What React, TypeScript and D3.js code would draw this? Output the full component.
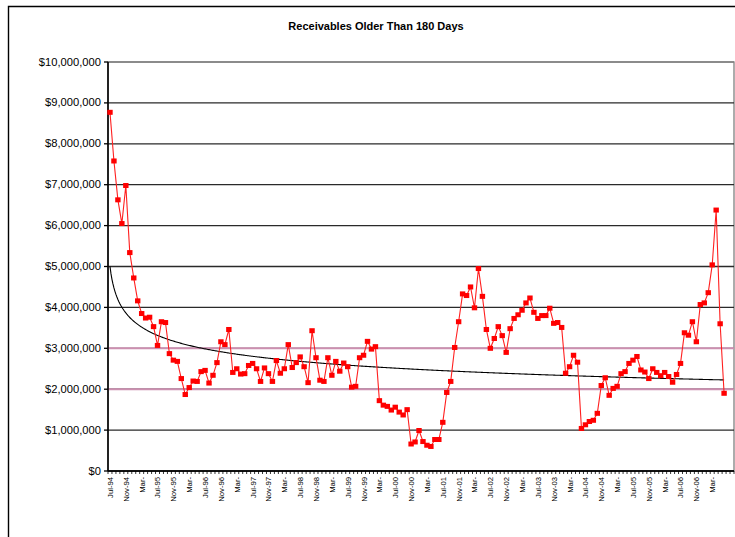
import React from 'react';
import * as d3 from 'd3';

const chartTitle = 'Receivables Older Than 180 Days';

// Monthly balances, Jul-94 .. Jun-07, in millions of dollars
const receivablesM: number[] = [
  8.77, 7.58, 6.63, 6.05, 6.98, 5.34, 4.72, 4.16, 3.85, 3.74, 3.76, 3.53,
  3.07, 3.65, 3.63, 2.87, 2.71, 2.68, 2.26, 1.87, 2.04, 2.20, 2.19, 2.43,
  2.46, 2.15, 2.34, 2.65, 3.16, 3.09, 3.46, 2.41, 2.50, 2.37, 2.38, 2.58,
  2.63, 2.50, 2.19, 2.52, 2.38, 2.19, 2.70, 2.39, 2.50, 3.09, 2.53, 2.65,
  2.79, 2.55, 2.16, 3.43, 2.77, 2.22, 2.19, 2.77, 2.34, 2.68, 2.44, 2.64,
  2.55, 2.05, 2.07, 2.77, 2.83, 3.17, 2.98, 3.04, 1.72, 1.61, 1.58, 1.49,
  1.56, 1.44, 1.37, 1.50, 0.66, 0.71, 0.99, 0.72, 0.63, 0.60, 0.77, 0.77,
  1.19, 1.92, 2.19, 3.02, 3.65, 4.33, 4.29, 4.50, 3.99, 4.95, 4.27, 3.46,
  3.00, 3.24, 3.53, 3.31, 2.90, 3.48, 3.73, 3.82, 3.93, 4.11, 4.23, 3.88,
  3.73, 3.80, 3.80, 3.98, 3.61, 3.63, 3.51, 2.39, 2.55, 2.83, 2.66, 1.04,
  1.13, 1.21, 1.24, 1.41, 2.09, 2.28, 1.85, 2.02, 2.07, 2.38, 2.43, 2.63,
  2.71, 2.80, 2.47, 2.42, 2.26, 2.50, 2.41, 2.33, 2.41, 2.31, 2.17, 2.36,
  2.63, 3.38, 3.32, 3.65, 3.16, 4.07, 4.11, 4.36, 5.04, 6.38, 3.60, 1.90,
];

// Category slots on the axis (Jul-94 .. Aug-07)
const categoryCount = 158;

// Tick labels every fourth month, starting at Jul-94
const tickLabels: string[] = [
  'Jul-94', 'Nov-94', 'Mar-', 'Jul-95', 'Nov-95', 'Mar-', 'Jul-96', 'Nov-96', 'Mar-',
  'Jul-97', 'Nov-97', 'Mar-', 'Jul-98', 'Nov-98', 'Mar-', 'Jul-99', 'Nov-99', 'Mar-',
  'Jul-00', 'Nov-00', 'Mar-', 'Jul-01', 'Nov-01', 'Mar-', 'Jul-02', 'Nov-02', 'Mar-',
  'Jul-03', 'Nov-03', 'Mar-', 'Jul-04', 'Nov-04', 'Mar-', 'Jul-05', 'Nov-05', 'Mar-',
  'Jul-06', 'Nov-06', 'Mar-',
];
const labelStep = 4;

const yTicksM: number[] = [0, 1, 2, 3, 4, 5, 6, 7, 8, 9, 10];
const referenceLinesM: number[] = [2, 3];
const MILLION = 1_000_000;

const W = 735;
const H = 537;
const plot = { left: 108, right: 734, top: 62, bottom: 471 };
const FONT = '"Liberation Sans", Arial, Helvetica, sans-serif';

export default function App() {
  const data = receivablesM.map((v, i) => ({ i, value: v * MILLION }));

  const x = d3
    .scaleBand<number>()
    .domain(d3.range(categoryCount))
    .range([plot.left, plot.right])
    .paddingInner(0)
    .paddingOuter(0);
  const cx = (i: number) => (x(i) as number) + x.bandwidth() / 2;

  const y = d3
    .scaleLinear()
    .domain([0, 10 * MILLION])
    .range([plot.bottom, plot.top]);

  const fmt = d3.format('$,.0f');

  const line = d3
    .line<{ i: number; value: number }>()
    .x((d) => cx(d.i))
    .y((d) => y(d.value));

  // Power trendline (least squares on ln x, ln y), x = 1..n
  const n = data.length;
  const lx = data.map((d) => Math.log(d.i + 1));
  const ly = data.map((d) => Math.log(d.value));
  const mx = d3.mean(lx) as number;
  const my = d3.mean(ly) as number;
  let sxy = 0;
  let sxx = 0;
  for (let k = 0; k < n; k++) {
    sxy += (lx[k] - mx) * (ly[k] - my);
    sxx += (lx[k] - mx) * (lx[k] - mx);
  }
  const p = sxy / sxx;
  const c = Math.exp(my - p * mx);
  const trendPts: [number, number][] = [];
  for (let t = 0; t <= (n - 1) * 4; t++) {
    const xi = t / 4;
    trendPts.push([cx(0) + (cx(1) - cx(0)) * xi, y(c * Math.pow(xi + 1, p))]);
  }
  const trendPath = d3.line()(trendPts) as string;

  const markW = 5.4;
  const markH = 5;

  return (
    <svg
      width={W}
      height={H}
      style={{ position: 'absolute', left: 0, top: 0, background: '#fff' }}
      fontFamily={FONT}
    >
      {/* chart frame */}
      <path d={`M8.5,${H + 5} V6.5 H${W + 5}`} fill="none" stroke="#000" strokeWidth={1.4} />

      <text
        transform="translate(376,30) scale(1.1,1)"
        textAnchor="middle"
        fontSize={10}
        fontWeight="bold"
        fill="#000"
      >
        {chartTitle}
      </text>

      {/* plot area border */}
      <rect
        x={plot.left}
        y={plot.top}
        width={plot.right - plot.left}
        height={plot.bottom - plot.top}
        fill="#fff"
        stroke="#808080"
        strokeWidth={1.3}
      />

      {/* gridlines */}
      {yTicksM.map((t) => (
        <line
          key={`g${t}`}
          x1={plot.left}
          x2={plot.right}
          y1={y(t * MILLION)}
          y2={y(t * MILLION)}
          stroke={t === 10 ? '#808080' : '#2a2a2a'}
          strokeWidth={1.3}
        />
      ))}

      {/* reference lines */}
      {referenceLinesM.map((t) => (
        <line
          key={`r${t}`}
          x1={plot.left}
          x2={plot.right}
          y1={y(t * MILLION)}
          y2={y(t * MILLION)}
          stroke="#cc8fb0"
          strokeWidth={2}
        />
      ))}

      {/* y axis */}
      <line x1={plot.left} x2={plot.left} y1={plot.top} y2={plot.bottom} stroke="#000" strokeWidth={1.6} />
      {yTicksM.map((t) => (
        <g key={`yt${t}`}>
          <line
            x1={plot.left - 4}
            x2={plot.left}
            y1={y(t * MILLION)}
            y2={y(t * MILLION)}
            stroke="#000"
            strokeWidth={1.3}
          />
          <text
            transform={`translate(101,${y(t * MILLION)}) scale(1.12,1)`}
            dy="0.35em"
            textAnchor="end"
            fontSize={10}
            fill="#000"
          >
            {fmt(t * MILLION)}
          </text>
        </g>
      ))}

      {/* x axis */}
      <line x1={plot.left} x2={plot.right} y1={plot.bottom} y2={plot.bottom} stroke="#000" strokeWidth={1.6} />
      {d3.range(categoryCount + 1).map((k) => {
        const xx = plot.left + k * x.bandwidth();
        return (
          <line key={`xt${k}`} x1={xx} x2={xx} y1={plot.bottom} y2={plot.bottom + 3} stroke="#000" strokeWidth={0.8} />
        );
      })}
      {tickLabels.map((lab, j) => {
        const xx = cx(j * labelStep);
        return (
          <text
            key={`xl${j}`}
            transform={`translate(${xx + 0.5},${plot.bottom + 6}) rotate(-90) scale(1.1,1)`}
            dy="0.35em"
            textAnchor="end"
            fontSize={7}
            fill="#000"
          >
            {lab}
          </text>
        );
      })}

      {/* trendline */}
      <path d={trendPath} fill="none" stroke="#000" strokeWidth={1.1} />

      {/* series */}
      <path d={line(data) as string} fill="none" stroke="#ff2020" strokeWidth={1.1} />
      {data.map((d) => (
        <rect
          key={`m${d.i}`}
          x={cx(d.i) - markW / 2}
          y={y(d.value) - markH / 2}
          width={markW}
          height={markH}
          fill="#ff0000"
        />
      ))}
    </svg>
  );
}
